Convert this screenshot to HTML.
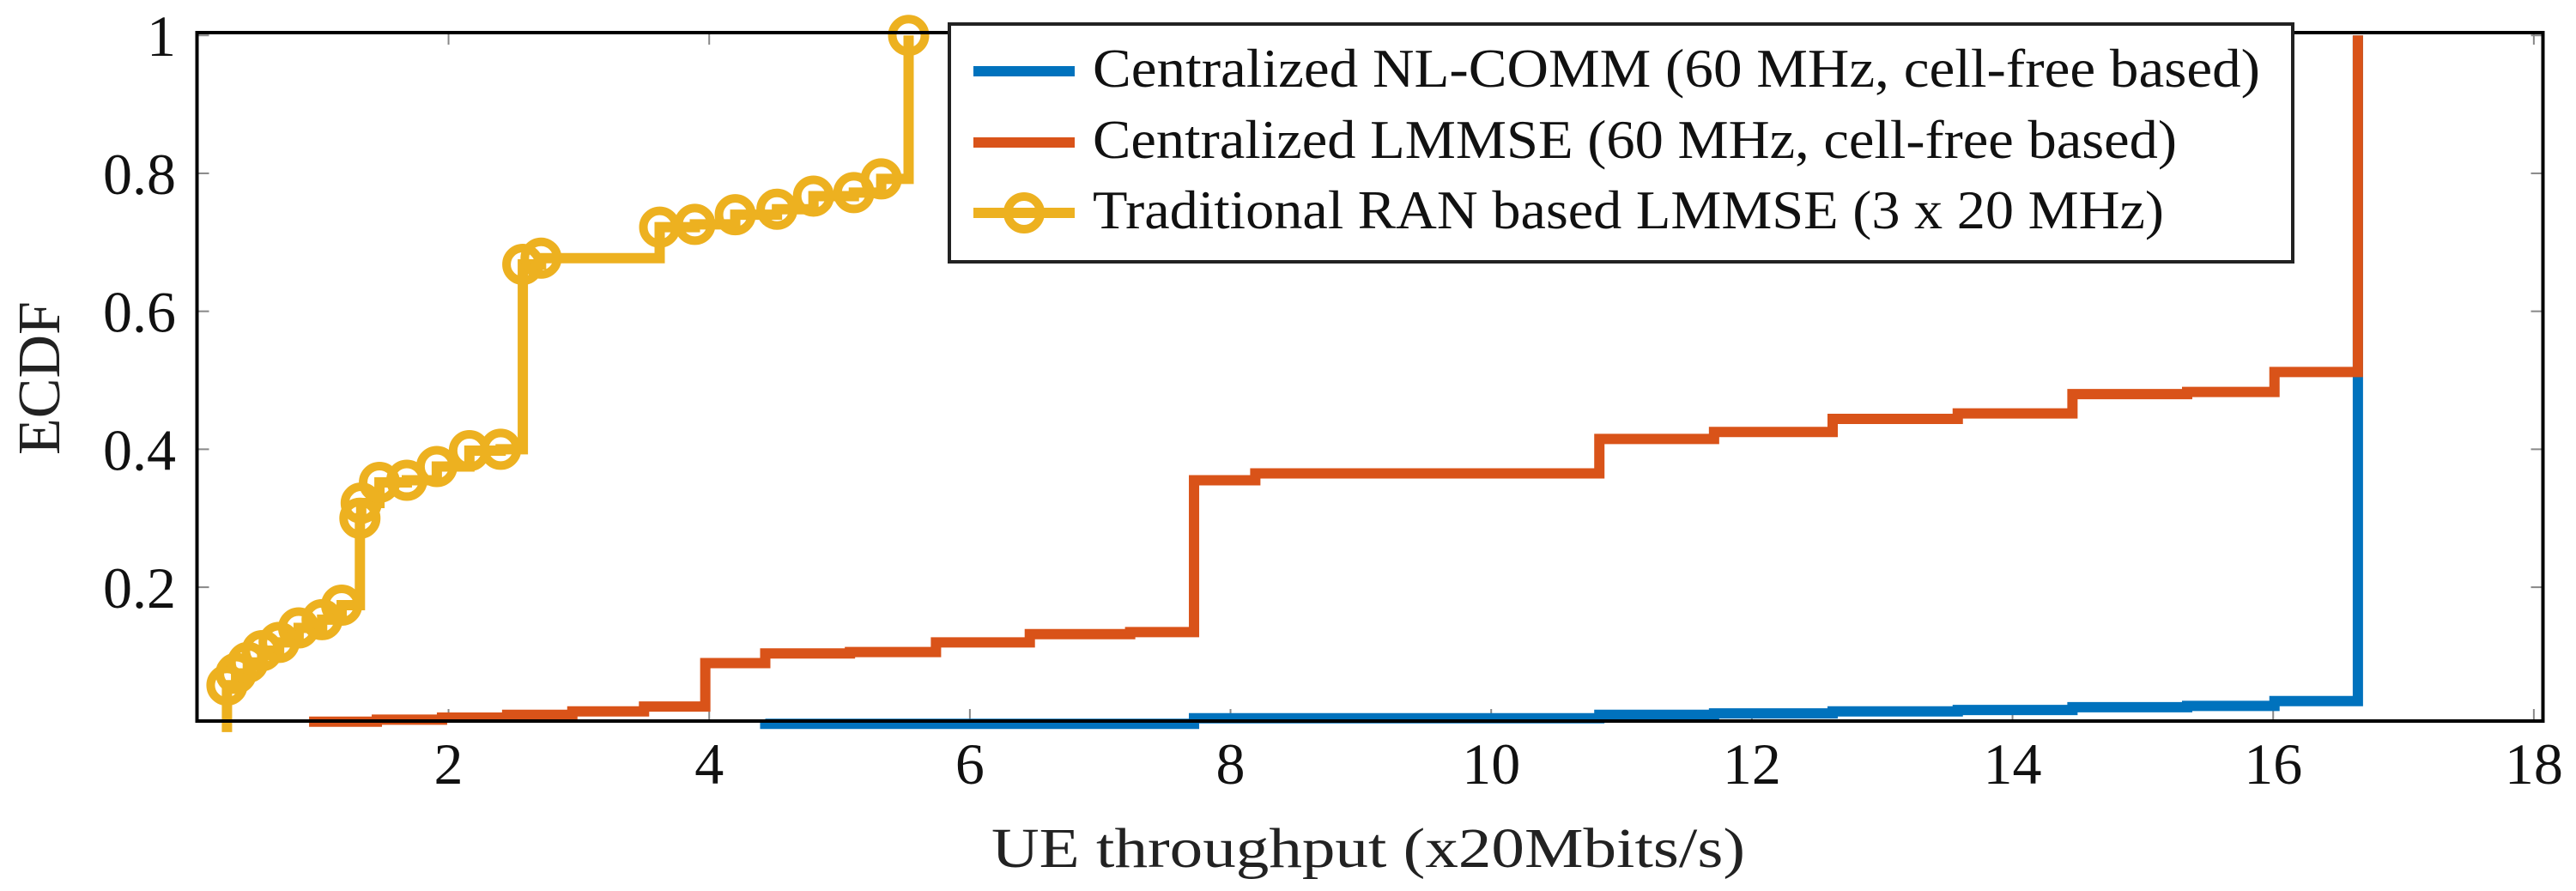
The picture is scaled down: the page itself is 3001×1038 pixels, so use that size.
<!DOCTYPE html>
<html><head><meta charset="utf-8"><style>
html,body{margin:0;padding:0;background:#fff;}
svg{display:block;font-family:"Liberation Serif",serif;}
</style></head><body>
<svg id="chart" width="3001" height="1038" viewBox="0 0 3001 1038" xmlns="http://www.w3.org/2000/svg">
<rect x="0" y="0" width="3001" height="1038" fill="#fff"/>
<g id="ticks"></g>
<g id="series"></g>
<rect x="229.5" y="38" width="2733" height="802" fill="none" stroke="#000" stroke-width="4"/>
<g id="labels"></g>
<text x="1155" y="1010" font-size="66" textLength="878" lengthAdjust="spacingAndGlyphs" fill="#222">UE throughput (x20Mbits/s)</text>
<text transform="translate(69,530) rotate(-90)" font-size="70" textLength="179" lengthAdjust="spacingAndGlyphs" fill="#222">ECDF</text>
<g>
<rect x="1106" y="28" width="1565" height="277" fill="#fff" stroke="#222" stroke-width="4"/>
<line x1="1134" y1="83" x2="1252" y2="83" stroke="#0072BD" stroke-width="12"/>
<text x="1273" y="101" font-size="64" textLength="1360" lengthAdjust="spacingAndGlyphs" fill="#111">Centralized NL-COMM (60 MHz, cell-free based)</text>
<line x1="1134" y1="166" x2="1252" y2="166" stroke="#D95319" stroke-width="12"/>
<text x="1273" y="184" font-size="64" textLength="1263" lengthAdjust="spacingAndGlyphs" fill="#111">Centralized LMMSE (60 MHz, cell-free based)</text>
<line x1="1134" y1="248" x2="1252" y2="248" stroke="#EDB120" stroke-width="12"/>
<circle cx="1193" cy="248" r="19" fill="none" stroke="#EDB120" stroke-width="10"/>
<text x="1273" y="266" font-size="64" textLength="1248" lengthAdjust="spacingAndGlyphs" fill="#111">Traditional RAN based LMMSE (3 x 20 MHz)</text>
</g>
</svg>
<script>
const xTicks = [2,4,6,8,10,12,14,16,18];
const yTicks = [0.2,0.4,0.6,0.8,1];
const yTickLabels = ["0.2","0.4","0.6","0.8","1"];
const blueX = [4.43,7.72,10.83,11.71,12.62,13.58,14.46,15.34,16.01,16.65];
const blueY = [0.002,0.01,0.015,0.017,0.02,0.022,0.026,0.028,0.035,1.0];
const orangeX = [0.93,1.45,1.95,2.45,2.95,3.5,3.97,4.43,5.08,5.74,6.46,7.23,7.72,8.19,10.83,11.71,12.62,13.58,14.46,15.34,16.01,16.65];
const orangeY = [0.005,0.008,0.011,0.015,0.02,0.027,0.09,0.104,0.106,0.12,0.132,0.135,0.355,0.365,0.415,0.425,0.444,0.452,0.48,0.483,0.512,1.0];
const yellowX = [0.30,0.37,0.46,0.57,0.70,0.85,1.03,1.18,1.32,1.33,1.47,1.68,1.91,2.16,2.40,2.57,2.71,3.62,3.89,4.20,4.52,4.80,5.11,5.32,5.53];
const yellowY = [0.058,0.075,0.091,0.108,0.12,0.141,0.153,0.174,0.30,0.322,0.352,0.355,0.375,0.398,0.40,0.668,0.677,0.722,0.726,0.740,0.748,0.767,0.772,0.792,1.0];

const X0=229.5, X1=2962.5, Y0=840, Y1=38;
const xMin=0.07, xMax=18.07, yMin=0.006, yMax=1.004;
function sx(v){return X0+(v-xMin)/(xMax-xMin)*(X1-X0);}
function sy(v){return Y0-(v-yMin)/(yMax-yMin)*(Y0-Y1);}
const NS="http://www.w3.org/2000/svg";
function mk(tag,attrs,parent){const e=document.createElementNS(NS,tag);for(const k in attrs)e.setAttribute(k,attrs[k]);parent.appendChild(e);return e;}
const tg=document.getElementById('ticks'), lg=document.getElementById('labels'), sg=document.getElementById('series');
xTicks.forEach((t,i)=>{
  const x=sx(t);
  const a=mk('line',{x1:x,y1:Y0,x2:x,y2:Y0-14,stroke:'#888','stroke-width':2},tg);
  
  
  const b=mk('line',{x1:x,y1:Y1,x2:x,y2:Y1+14,stroke:'#888','stroke-width':2},tg);
  
  
  const l=mk('text',{x:x,y:913,'font-size':68,'text-anchor':'middle',fill:'#111'},lg);
  l.textContent=String(t);
  
  
});
yTicks.forEach((t,i)=>{
  const y=sy(t);
  const a=mk('line',{x1:X0,y1:y,x2:X0+14,y2:y,stroke:'#888','stroke-width':2},tg);
  
  
  const b=mk('line',{x1:X1,y1:y,x2:X1-14,y2:y,stroke:'#888','stroke-width':2},tg);
  
  
  const l=mk('text',{x:205,y:y+24,'font-size':68,'text-anchor':'end',fill:'#111'},lg);
  l.textContent=yTickLabels[i];
  
  
});
function stepPath(xs,ys,startY){
  let d='M'+sx(xs[0])+','+sy(startY)+' L'+sx(xs[0])+','+sy(ys[0]);
  for(let i=1;i<xs.length;i++){d+=' L'+sx(xs[i])+','+sy(ys[i-1])+' L'+sx(xs[i])+','+sy(ys[i]);}
  return d;
}
const pb=mk('path',{d:stepPath(blueX,blueY,yMin),fill:'none',stroke:'#0072BD','stroke-width':12,'stroke-linejoin':'miter'},sg);


const po=mk('path',{d:stepPath(orangeX,orangeY,orangeY[0]),fill:'none',stroke:'#D95319','stroke-width':12,'stroke-linejoin':'miter'},sg);


const py=mk('path',{d:stepPath(yellowX,yellowY,-0.01),fill:'none',stroke:'#EDB120','stroke-width':12,'stroke-linejoin':'miter'},sg);


yellowX.forEach((v,i)=>{
  const c=mk('circle',{cx:sx(v),cy:sy(yellowY[i]),r:19,fill:'none',stroke:'#EDB120','stroke-width':10},sg);
  
  
});
</script>
</body></html>
